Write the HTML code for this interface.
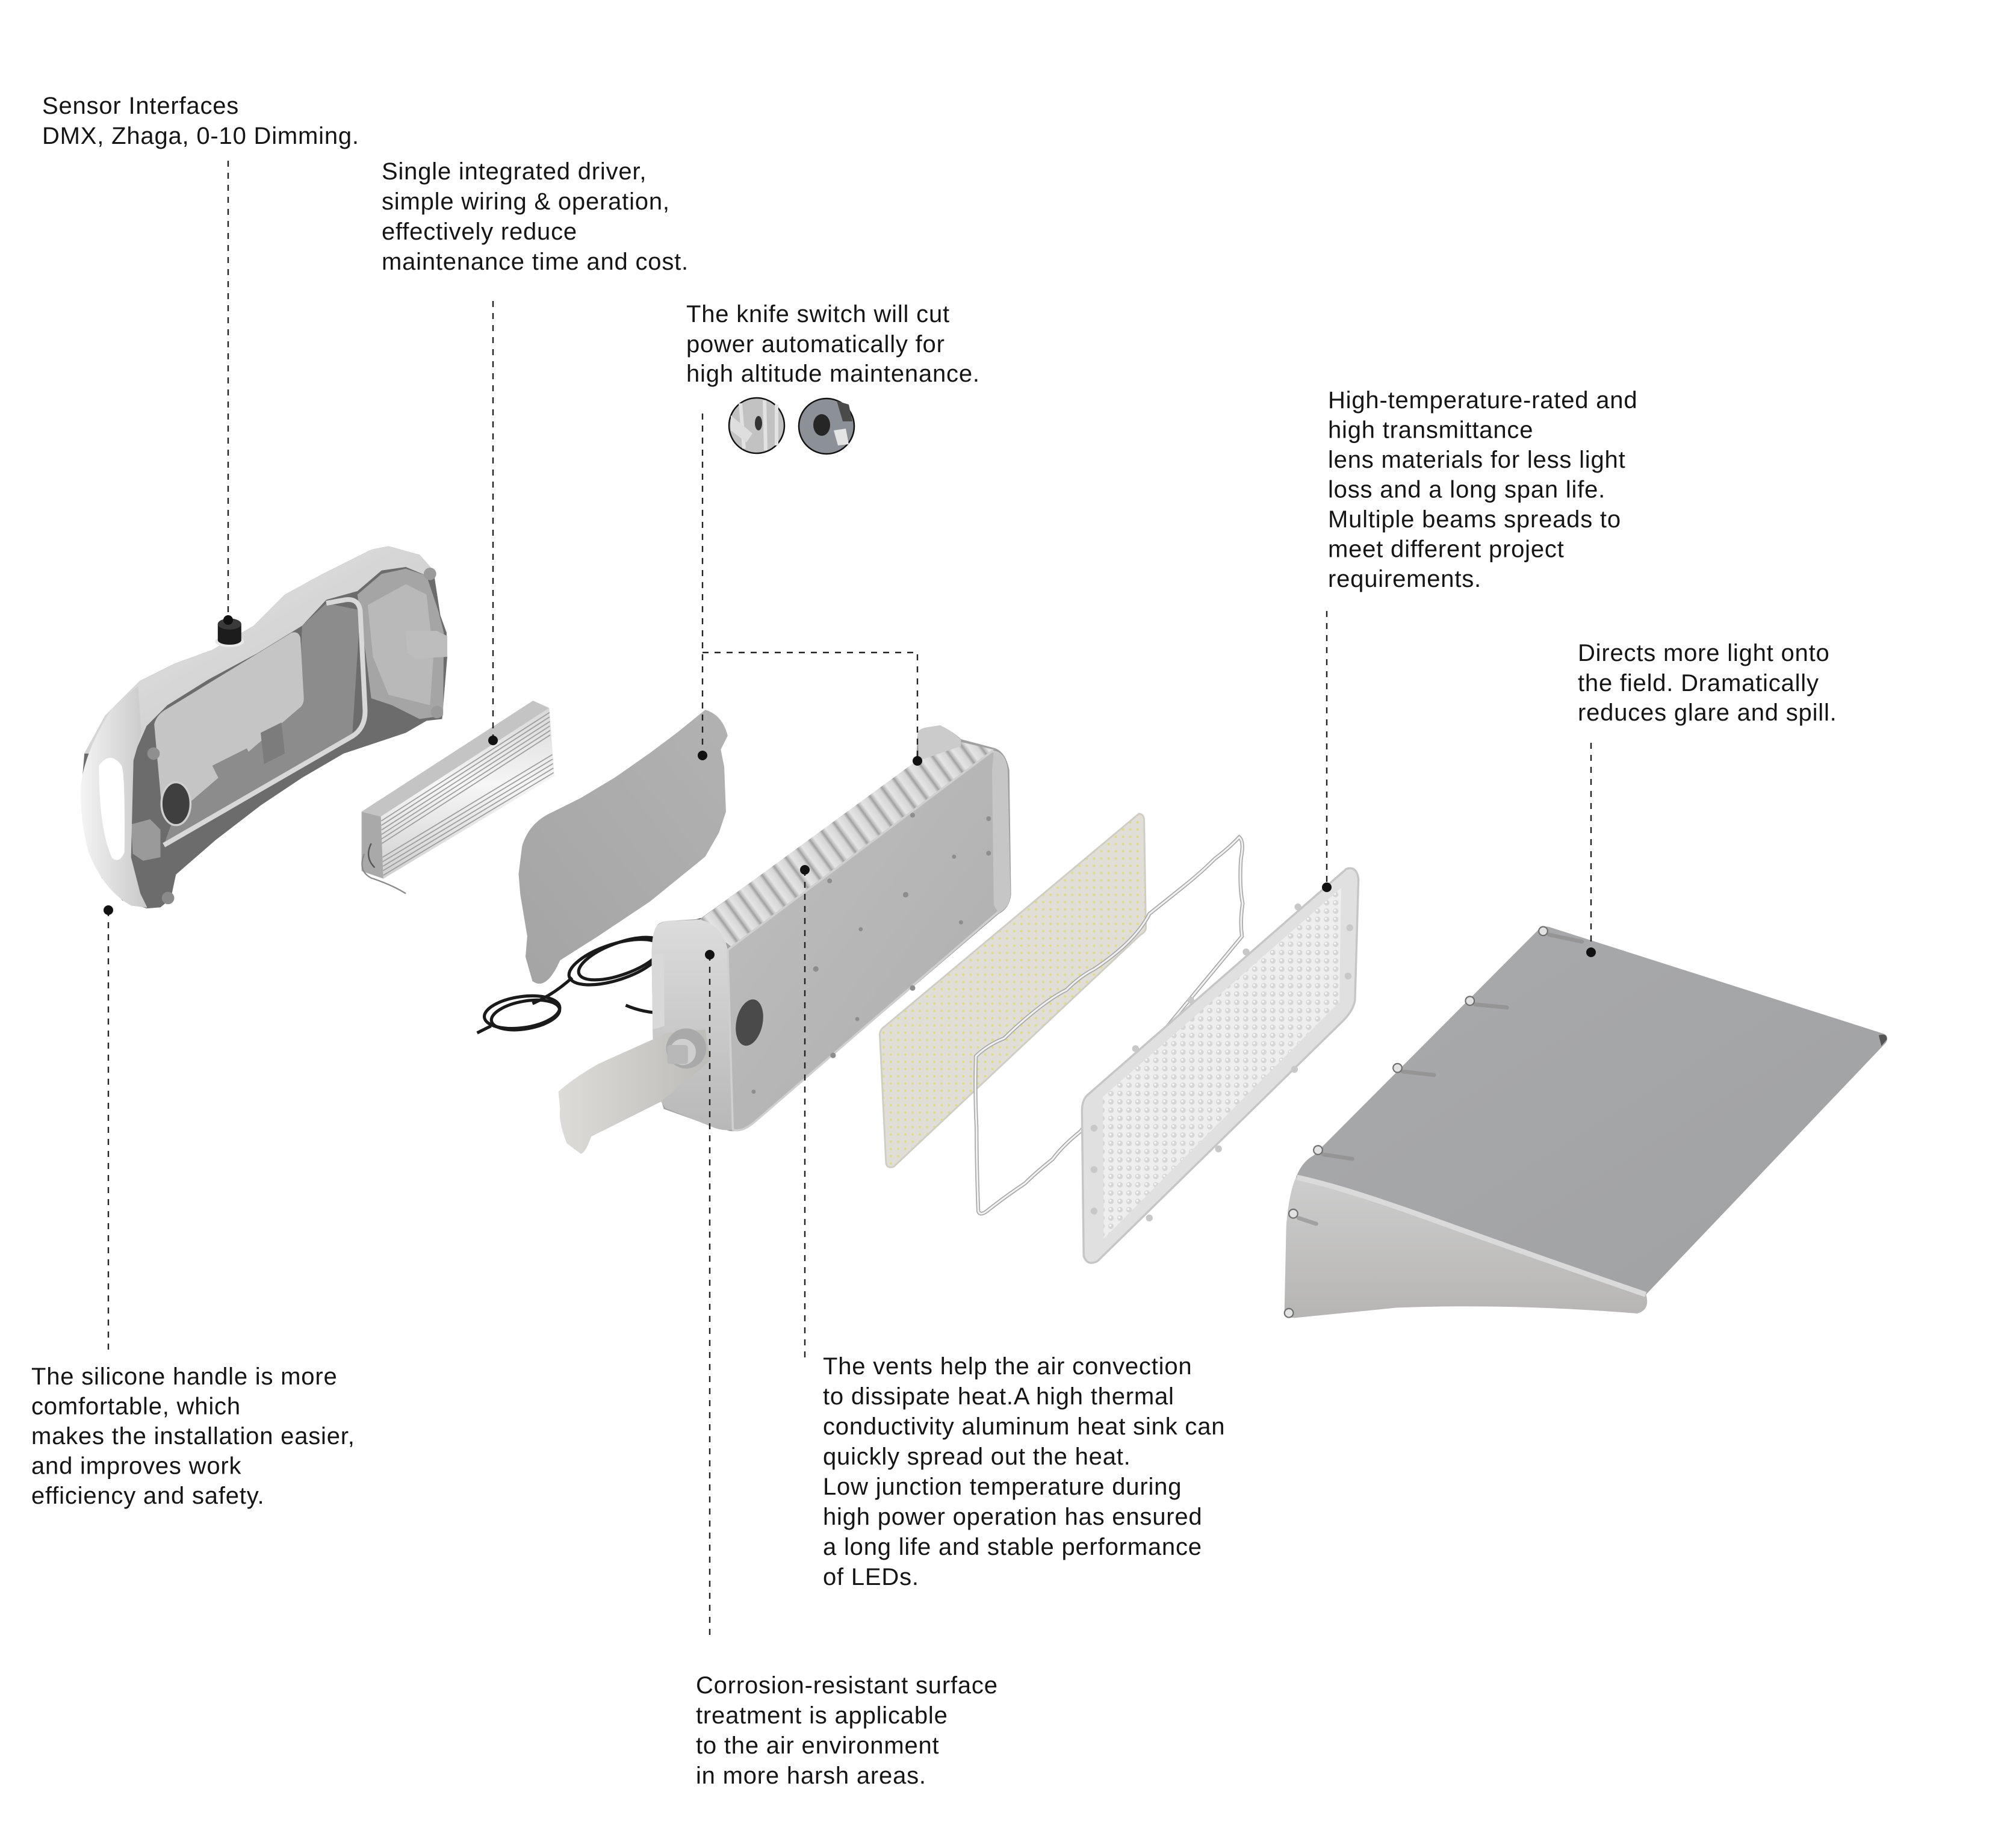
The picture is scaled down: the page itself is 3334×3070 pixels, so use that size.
<!DOCTYPE html>
<html><head><meta charset="utf-8"><style>
html,body{margin:0;padding:0;background:#fff;}
svg{display:block;}
text{font-family:"Liberation Sans",Arial,sans-serif;font-size:40px;letter-spacing:0.8px;fill:#151515;}
</style></head><body>
<svg width="3334" height="3070" viewBox="0 0 3334 3070" xmlns="http://www.w3.org/2000/svg">
<defs>
<linearGradient id="shellG" x1="0" y1="0" x2="1" y2="1"><stop offset="0" stop-color="#e6e6e6"/><stop offset="1" stop-color="#c4c4c4"/></linearGradient>
<linearGradient id="handleG" x1="0" y1="0" x2="1" y2="0"><stop offset="0" stop-color="#f4f4f4"/><stop offset="1" stop-color="#c8c8c8"/></linearGradient>
<linearGradient id="drvSide" x1="0" y1="0" x2="0" y2="1"><stop offset="0" stop-color="#d8d8d8"/><stop offset="0.45" stop-color="#f6f6f6"/><stop offset="1" stop-color="#cfcfcf"/></linearGradient>
<linearGradient id="plateG" x1="1" y1="0" x2="0" y2="1"><stop offset="0" stop-color="#b2b2b2"/><stop offset="1" stop-color="#a4a4a4"/></linearGradient>
<linearGradient id="finG" gradientUnits="userSpaceOnUse" x1="555" y1="828" x2="589.7" y2="802.7" spreadMethod="repeat"><stop offset="0" stop-color="#bdbdbd"/><stop offset="0.2" stop-color="#e4e4e4"/><stop offset="0.7" stop-color="#d6d6d6"/><stop offset="0.9" stop-color="#a0a0a0"/><stop offset="1" stop-color="#bdbdbd"/></linearGradient>
<linearGradient id="capG" x1="0" y1="0" x2="0" y2="1"><stop offset="0" stop-color="#dcdcdc"/><stop offset="1" stop-color="#b8b8b8"/></linearGradient>
<linearGradient id="faceG" x1="0" y1="0" x2="1" y2="1"><stop offset="0" stop-color="#bfbfbf"/><stop offset="1" stop-color="#adadad"/></linearGradient>
<linearGradient id="armG" x1="0" y1="0" x2="1" y2="0"><stop offset="0" stop-color="#dedcd8"/><stop offset="1" stop-color="#bdbbb7"/></linearGradient>
<linearGradient id="visTop" x1="0" y1="0" x2="1" y2="1"><stop offset="0" stop-color="#a9aaac"/><stop offset="1" stop-color="#a0a1a3"/></linearGradient>
<linearGradient id="visFront" x1="0" y1="0" x2="0" y2="1"><stop offset="0" stop-color="#cdcdcd"/><stop offset="1" stop-color="#b6b5b3"/></linearGradient>
<pattern id="ledP" width="21" height="21" patternUnits="userSpaceOnUse"><rect width="21" height="21" fill="#e0ded6"/><circle cx="10" cy="10" r="3.6" fill="#dedb8c"/></pattern>
<pattern id="lensP" width="26" height="24" patternUnits="userSpaceOnUse"><rect width="26" height="24" fill="#eeeeee"/><circle cx="13" cy="12" r="8" fill="#d6d6d6"/><circle cx="11" cy="10" r="3" fill="#fafafa"/></pattern>
</defs>
<rect width="3334" height="3070" fill="#fff"/>

<!-- ===== Left housing + driver (zoom4 coords) ===== -->
<g transform="translate(100,850) scale(0.5741)">
 <path d="M70,700 L130,590 L230,490 L330,440 L440,400 L560,330 L650,240 L760,180 L900,110 L950,100 L1040,125 L1080,170 L1100,300 L1118,350 L1120,420 L1105,600 L1060,605 L1000,640 L820,700 L700,770 L580,850 L450,950 L335,1050 L320,1120 L290,1145 L250,1148 L180,1125 L120,1060 L78,960 L60,820 Z" fill="#6c6c6c"/>
 <path d="M300,965 L845,650 L868,285 L770,265 L700,330 L690,570 L330,880 Z" fill="#8c8c8c"/>
 <path d="M70,700 L130,590 L230,490 L330,440 L440,400 L560,330 L650,240 L760,180 L900,110 L950,100 L1040,125 L1080,170 L1060,185 L1000,160 L930,170 L860,230 L770,255 L700,330 L570,410 L430,485 L310,560 L250,620 L215,700 Z" fill="url(#shellG)"/>
 <path d="M860,240 L930,180 L1000,165 L1060,185 L1095,290 L1110,350 L1108,590 L1040,600 L960,560 L900,540 L885,420 Z" fill="#a5a5a5"/>
 <path d="M890,270 L1000,210 L1060,240 L1080,420 L1070,560 L950,530 L905,420 Z" fill="#b9b9b9"/>
 <path d="M272,615 Q280,585 310,570 L670,350 Q690,345 695,365 L705,540 Q705,560 690,570 L330,880 Q300,900 295,870 Z" fill="#c5c5c5"/>
 <path d="M300,965 L845,650 Q885,625 882,570 L868,285 Q862,250 825,255 L770,265" fill="none" stroke="#d8d8d8" stroke-width="14"/>
 <path d="M440,735 L540,685 L565,735 L465,785 Z" fill="#8c8c8c"/>
 <path d="M580,640 L640,610 L650,700 L590,730 Z" fill="#7c7c7c"/>
 <path d="M1000,345 L1090,345 L1120,360 L1120,420 L1030,425 L1005,410 Z" fill="#bdbdbd"/>
 <path d="M205,905 L260,890 L290,920 L290,1000 L240,1010 L210,990 Z" fill="#9a9a9a"/>
 <circle cx="1070" cy="180" r="18" fill="#9a9a9a"/>
 <circle cx="1090" cy="580" r="18" fill="#9a9a9a"/>
 <circle cx="312" cy="1118" r="18" fill="#8a8a8a"/>
 <circle cx="270" cy="700" r="18" fill="#8f8f8f"/>
 <path d="M60,790 Q72,690 150,570 L225,505 L235,640 L212,720 L205,1000 L232,1105 L252,1146 L205,1140 Q125,1095 82,985 Q55,885 60,790 Z" fill="url(#handleG)"/>
 <path d="M112,735 Q145,690 178,735 Q188,760 186,985 Q172,1020 150,1002 Q112,920 112,735 Z" fill="#fff"/>
 <ellipse cx="335" cy="845" rx="42" ry="62" fill="#3f3f3f" stroke="#cfcfcf" stroke-width="6"/>
 <ellipse cx="490" cy="376" rx="42" ry="16" fill="#e8e8e8"/>
 <rect x="456" y="325" width="68" height="47" fill="#1c1c1c"/>
 <ellipse cx="490" cy="372" rx="34" ry="13" fill="#1c1c1c"/>
 <ellipse cx="490" cy="325" rx="34" ry="16" fill="#3a3a3a"/>
 <!-- driver -->
 <path d="M872,868 L928,882 L935,1062 L872,1040 Z" fill="#a9a9a9"/>
 <path d="M928,882 L1415,568 L1430,765 L935,1062 Z" fill="url(#drvSide)"/>
 <path d="M872,868 L1368,547 L1415,568 L928,882 Z" fill="#c4c4c4"/>
 <g stroke="#9c9c9c" stroke-width="3">
  <path d="M929,895 L1416,581"/><path d="M929,908 L1416,594"/><path d="M930,921 L1417,607"/><path d="M930,934 L1417,620"/><path d="M930,947 L1418,633"/><path d="M931,960 L1418,646"/>
  <path d="M933,1000 L1424,703"/><path d="M933,1013 L1425,716"/><path d="M934,1026 L1426,729"/><path d="M934,1039 L1427,742"/><path d="M935,1052 L1428,755"/>
 </g>
 <path d="M880,990 Q860,1040 900,1060 Q960,1080 1000,1105" fill="none" stroke="#8a8a8a" stroke-width="4"/>
 <path d="M900,960 Q880,1000 910,1030" fill="none" stroke="#555" stroke-width="4"/>
</g>

<!-- ===== Cover plate, wires, main housing (zoom5 coords) ===== -->
<g transform="translate(850,1050) scale(0.5741)">
 <path d="M560,225 Q610,240 625,300 L605,340 L615,390 L620,520 L600,580 L560,650 L400,780 L250,880 L140,950 Q100,1040 60,1010 L40,940 L45,880 L25,760 L20,700 L30,620 Q50,550 120,520 L200,480 L300,420 L400,350 L480,290 Z" fill="url(#plateG)"/>
 <g fill="none" stroke="#1a1a1a" stroke-width="9">
  <ellipse cx="300" cy="955" rx="140" ry="52" transform="rotate(-18 300 955)"/>
  <ellipse cx="315" cy="945" rx="128" ry="46" transform="rotate(-20 315 945)"/>
  <path d="M430,880 Q500,840 560,830"/>
  <path d="M420,900 Q490,870 560,860"/>
  <path d="M175,1000 Q120,1050 60,1075"/>
  <ellipse cx="30" cy="1100" rx="110" ry="45" transform="rotate(-8 30 1100)"/>
  <ellipse cx="40" cy="1108" rx="100" ry="40" transform="rotate(-10 40 1108)"/>
  <path d="M330,1080 Q400,1110 480,1100 Q520,1095 560,1110"/>
  <path d="M-60,1140 L-100,1160"/>
 </g>
 <path d="M420,850 Q430,835 470,835 L545,830 L1170,378 L1175,290 Q1180,280 1200,276 L1240,270 Q1280,290 1300,310 L1395,335 Q1430,345 1440,400 L1445,760 Q1440,800 1410,815 L700,1420 Q650,1455 620,1440 L580,1430 L440,1380 L410,1280 L405,930 Z" fill="#a0a0a0"/>
 <path d="M540,835 L1175,370 L1300,318 L1395,340 L635,910 Z" fill="url(#finG)"/>
 <path d="M1175,290 Q1180,280 1200,276 L1240,270 Q1280,290 1300,312 L1300,330 L1178,372 Z" fill="#cbcbcb"/>
 <path d="M420,850 Q440,832 480,835 L545,832 Q612,850 625,920 L640,1440 Q610,1445 580,1432 L445,1378 Q415,1340 410,1280 L405,935 Q405,870 420,850 Z" fill="url(#capG)"/>
 <path d="M625,920 L1390,345 Q1428,350 1432,400 L1440,760 Q1438,795 1405,812 L700,1420 Q665,1448 640,1440 Z" fill="url(#faceG)" stroke="#cfcfcf" stroke-width="6"/>
 <path d="M1395,345 Q1430,352 1434,400 L1442,760 Q1440,795 1408,812 L1395,790 L1390,400 Z" fill="#c6c6c6"/>
 <g fill="#8d8d8d">
  <circle cx="1140" cy="760" r="8"/><circle cx="1010" cy="860" r="6"/><circle cx="1280" cy="650" r="6"/><circle cx="880" cy="975" r="8"/><circle cx="1160" cy="530" r="7"/><circle cx="920" cy="720" r="7"/><circle cx="1300" cy="840" r="6"/><circle cx="1000" cy="1120" r="6"/><circle cx="1160" cy="1030" r="8"/><circle cx="930" cy="1225" r="8"/><circle cx="700" cy="1330" r="6"/><circle cx="1380" cy="540" r="7"/><circle cx="1380" cy="640" r="7"/>
 </g>
 <path d="M405,935 L440,930 L442,1140 L408,1150 Z" fill="#d8d8d8"/>
 <ellipse cx="688" cy="1130" rx="38" ry="68" transform="rotate(12 688 1130)" fill="#4a4a4a"/>
 <path d="M135,1330 Q180,1290 250,1250 L450,1160 L560,1150 L575,1240 L430,1360 L230,1460 Q215,1505 200,1510 L160,1480 Q135,1420 140,1380 Z" fill="url(#armG)"/>
 <circle cx="505" cy="1205" r="58" fill="#a9a9a9"/>
 <circle cx="495" cy="1215" r="38" fill="#cfcfcf"/>
 <rect x="450" y="1195" width="60" height="55" rx="8" fill="#b8b8b8"/>
</g>

<!-- ===== LED board, gasket, lens (zoom6 coords) ===== -->
<g transform="translate(1450,1300) scale(0.5741)">
 <path d="M770,90 Q785,92 785,110 L790,420 Q790,432 775,440 L60,1112 Q40,1118 38,1100 L20,730 Q20,715 35,705 Z" fill="url(#ledP)" stroke="#cfcdc4" stroke-width="5"/>
 <path d="M298,792 Q330,760 380,740 Q420,700 470,660 Q520,620 560,600 Q600,560 640,540 Q700,500 740,460 Q780,420 800,380 Q850,340 900,300 Q950,260 990,220 Q1030,190 1060,158 Q1075,170 1065,220 Q1060,300 1070,350 Q1062,400 1068,445 L600,1010 Q550,1050 520,1090 Q470,1130 440,1160 Q380,1200 330,1240 Q310,1255 305,1240 Q300,1100 300,1000 Q295,900 298,792 Z" fill="none" stroke="#a9a9a9" stroke-width="11"/>
 <path d="M298,792 Q330,760 380,740 Q420,700 470,660 Q520,620 560,600 Q600,560 640,540 Q700,500 740,460 Q780,420 800,380 Q850,340 900,300 Q950,260 990,220 Q1030,190 1060,158 Q1075,170 1065,220 Q1060,300 1070,350 Q1062,400 1068,445 L600,1010 Q550,1050 520,1090 Q470,1130 440,1160 Q380,1200 330,1240 Q310,1255 305,1240 Q300,1100 300,1000 Q295,900 298,792 Z" fill="none" stroke="#f2f2f2" stroke-width="5"/>
 <path d="M620,905 L1370,250 Q1400,240 1405,280 L1395,630 Q1390,660 1360,690 L650,1385 Q620,1400 610,1370 L605,950 Q605,920 620,905 Z" fill="#e0e0e0" stroke="#c6c6c6" stroke-width="6"/>
 <path d="M665,910 L1355,305 L1350,635 L668,1320 Z" fill="url(#lensP)"/>
 <g fill="#c8c8c8">
  <circle cx="640" cy="1000" r="10"/><circle cx="640" cy="1120" r="10"/><circle cx="640" cy="1240" r="10"/><circle cx="760" cy="770" r="10"/><circle cx="920" cy="630" r="10"/><circle cx="1080" cy="490" r="10"/><circle cx="1230" cy="360" r="10"/><circle cx="1380" cy="420" r="10"/><circle cx="1375" cy="560" r="10"/><circle cx="800" cy="1260" r="10"/><circle cx="1000" cy="1060" r="10"/><circle cx="1220" cy="830" r="10"/>
 </g>
</g>

<!-- ===== Visor (zoom7 coords) ===== -->
<g transform="translate(2100,1450) scale(0.73342)">
 <path d="M622,128 Q632,118 650,124 L1405,365 Q1416,372 1408,385 L865,955 Q640,880 400,795 Q180,715 72,690 Q85,655 112,640 Z" fill="url(#visTop)"/>
 <path d="M72,690 Q180,715 400,795 Q640,880 865,955 Q875,990 845,998 Q560,975 300,985 L70,1008 Q46,1008 46,990 L50,800 Q56,725 72,690 Z" fill="url(#visFront)"/>
 <path d="M74,690 Q180,712 400,792 Q640,878 864,955" stroke="#dadada" stroke-width="12" fill="none"/>
 <path d="M1392,368 Q1412,362 1410,378 L1398,392 Z" fill="#555"/>
 <g stroke="#8a8a8a" stroke-width="9" stroke-linecap="round" opacity="0.6">
  <path d="M645,140 L720,156"/><path d="M478,298 L550,305"/><path d="M314,450 L385,458"/><path d="M134,638 L200,648"/><path d="M78,782 L118,795"/>
 </g>
 <g fill="#e2e2e2" stroke="#6f6f6f" stroke-width="3">
  <circle cx="632" cy="132" r="10"/><circle cx="466" cy="290" r="10"/><circle cx="302" cy="442" r="10"/><circle cx="122" cy="628" r="10"/><circle cx="66" cy="772" r="10"/><circle cx="56" cy="997" r="10"/>
 </g>
</g>

<!-- ===== Knife switch detail circles ===== -->
<circle cx="1257" cy="707" r="46" fill="#c2c2c2" stroke="#111" stroke-width="2.5"/>
<path d="M1230,670 L1236,745 M1270,665 L1272,748 M1290,672 L1290,740" stroke="#e2e2e2" stroke-width="6"/>
<path d="M1214,690 L1250,720 L1240,735 L1214,715 Z" fill="#dedede"/>
<ellipse cx="1260" cy="703" rx="6" ry="12" fill="#333"/>
<circle cx="1373" cy="708" r="46" fill="#8c9097" stroke="#111" stroke-width="2.5"/>
<path d="M1390,666 L1410,672 L1416,700 L1400,700 Z" fill="#4a4a4a"/>
<ellipse cx="1365" cy="706" rx="14" ry="18" fill="#262626"/>
<path d="M1385,715 L1405,712 L1410,738 L1392,740 Z" fill="#e4e4e4"/>

<!-- ===== Leader lines ===== -->
<g stroke="#222" stroke-width="2.4" stroke-dasharray="10 10" fill="none">
 <path d="M379,267 L379,1030"/>
 <path d="M819,500 L819,1230"/>
 <path d="M1167,687 L1167,1255"/>
 <path d="M1167,1084 L1524,1084 L1524,1264"/>
 <path d="M2204,1015 L2204,1474"/>
 <path d="M2643,1234 L2643,1582"/>
 <path d="M180,1512 L180,2244"/>
 <path d="M1337,1445 L1337,2255"/>
 <path d="M1179,1586 L1179,2724"/>
</g>
<g fill="#111">
 <circle cx="379" cy="1030" r="8"/>
 <circle cx="819" cy="1230" r="8"/>
 <circle cx="1167" cy="1255" r="8"/>
 <circle cx="1524" cy="1264" r="8"/>
 <circle cx="2204" cy="1474" r="8"/>
 <circle cx="2643" cy="1582" r="8"/>
 <circle cx="180" cy="1512" r="8"/>
 <circle cx="1337" cy="1445" r="8"/>
 <circle cx="1179" cy="1586" r="8"/>
</g>

<!-- ===== Text ===== -->
<text><tspan x="70" y="189">Sensor Interfaces</tspan><tspan x="70" y="239">DMX, Zhaga, 0-10 Dimming.</tspan></text>
<text><tspan x="634" y="298">Single integrated driver,</tspan><tspan x="634" y="348">simple wiring &amp; operation,</tspan><tspan x="634" y="398">effectively reduce</tspan><tspan x="634" y="448">maintenance time and cost.</tspan></text>
<text><tspan x="1140" y="535">The knife switch will cut</tspan><tspan x="1140" y="585">power automatically for</tspan><tspan x="1140" y="634">high altitude maintenance.</tspan></text>
<text><tspan x="2206" y="678">High-temperature-rated and</tspan><tspan x="2206" y="727.5">high transmittance</tspan><tspan x="2206" y="777">lens materials for less light</tspan><tspan x="2206" y="826.5">loss and a long span life.</tspan><tspan x="2206" y="876">Multiple beams spreads to</tspan><tspan x="2206" y="925.5">meet different project</tspan><tspan x="2206" y="975">requirements.</tspan></text>
<text><tspan x="2621" y="1098">Directs more light onto</tspan><tspan x="2621" y="1148">the field. Dramatically</tspan><tspan x="2621" y="1197">reduces glare and spill.</tspan></text>
<text><tspan x="52" y="2300">The silicone handle is more</tspan><tspan x="52" y="2349.5">comfortable, which</tspan><tspan x="52" y="2399">makes the installation easier,</tspan><tspan x="52" y="2448.5">and improves work</tspan><tspan x="52" y="2498">efficiency and safety.</tspan></text>
<text><tspan x="1367" y="2283">The vents help the air convection</tspan><tspan x="1367" y="2333">to dissipate heat.A high thermal</tspan><tspan x="1367" y="2383">conductivity aluminum heat sink can</tspan><tspan x="1367" y="2433">quickly spread out the heat.</tspan><tspan x="1367" y="2483">Low junction temperature during</tspan><tspan x="1367" y="2533">high power operation has ensured</tspan><tspan x="1367" y="2583">a long life and stable performance</tspan><tspan x="1367" y="2633">of LEDs.</tspan></text>
<text><tspan x="1156" y="2813">Corrosion-resistant surface</tspan><tspan x="1156" y="2863">treatment is applicable</tspan><tspan x="1156" y="2913">to the air environment</tspan><tspan x="1156" y="2963">in more harsh areas.</tspan></text>
</svg>
</body></html>
